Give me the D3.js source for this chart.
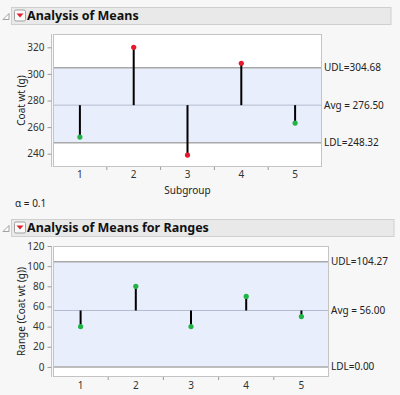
<!DOCTYPE html>
<html><head><meta charset="utf-8">
<script src="https://cdn.jsdelivr.net/npm/d3@7"></script>
<style>
html,body{margin:0;padding:0;background:#f7f7f7;}
svg{display:block;font-family:"Noto Sans","Open Sans",sans-serif;}
</style></head>
<body>
<script>
const subgroups = ["1","2","3","4","5"];
const means = [252.5, 320, 239, 308, 263];
const meanLimits = {udl: 304.68, avg: 276.50, ldl: 248.32};
const meanTicks = [240, 260, 280, 300, 320];
const ranges = [40, 80, 40, 70, 50];
const rangeLimits = {udl: 104.27, avg: 56.00, ldl: 0.00};
const rangeTicks = [0, 20, 40, 60, 80, 100, 120];
const meanLabels = ["UDL=304.68", "Avg = 276.50", "LDL=248.32"];
const rangeLabels = ["UDL=104.27", "Avg = 56.00", "LDL=0.00"];

const W = 400, H = 395;
const svg = d3.select("body").append("svg").attr("width", W).attr("height", H);
svg.append("rect").attr("width", W).attr("height", H).attr("fill", "#f7f7f7");

function header(y0, y1, right, title) {
  const g = svg.append("g");
  g.append("rect").attr("x", 11.5).attr("y", y0 + 0.5).attr("width", right - 11.5).attr("height", y1 - y0)
    .attr("fill", "#e9e9e9").attr("stroke", "#cfcfcf");
  // disclosure triangle
  const cy = (y0 + y1) / 2;
  g.append("path").attr("d", `M3,${cy + 4} L9,${cy + 4} L9,${cy - 2} Z`).attr("fill", "#fff").attr("stroke", "#8a8a8a").attr("stroke-width", 0.8);
  // red arrow button
  g.append("rect").attr("x", 14.5).attr("y", cy - 5.5).attr("width", 11).attr("height", 11).attr("rx", 1.5)
    .attr("fill", "#fafafa").attr("stroke", "#a0a0a0");
  g.append("path").attr("d", `M16.5,${cy - 2} L23.5,${cy - 2} L20,${cy + 2} Z`).attr("fill", "#e0202e");
  g.append("text").attr("x", 27).attr("y", cy + 4.5).attr("font-size", 12.5).attr("font-weight", "bold")
    .attr("fill", "#111").text(title);
}

function chart(opts) {
  const {left, right, top, bottom, domain, ticks, values, limits, labels, yTitle, colorFn, xLabelY, xTitle} = opts;
  const x = d3.scaleBand().domain(subgroups).range([left, right]);
  const y = d3.scaleLinear().domain(domain).range([bottom, top]);
  const g = svg.append("g");
  g.append("rect").attr("x", left).attr("y", top).attr("width", right - left).attr("height", bottom - top).attr("fill", "#fff");
  g.append("rect").attr("x", left).attr("y", y(limits.udl)).attr("width", right - left)
    .attr("height", y(limits.ldl) - y(limits.udl)).attr("fill", "#e8eefc");
  g.append("line").attr("x1", left).attr("x2", right).attr("y1", y(limits.avg)).attr("y2", y(limits.avg))
    .attr("stroke", "#b4bccf").attr("stroke-width", 1);
  [limits.udl, limits.ldl].forEach(v => {
    g.append("line").attr("x1", left).attr("x2", right).attr("y1", y(v)).attr("y2", y(v))
      .attr("stroke", "#a8a8a8").attr("stroke-width", 1.5);
  });
  g.append("rect").attr("x", left + 0.5).attr("y", top + 0.5).attr("width", right - left - 1).attr("height", bottom - top - 1)
    .attr("fill", "none").attr("stroke", "#c4c4c4");

  // y axis
  const ya = g.append("g").attr("transform", `translate(${left - 1.5},0)`)
    .call(d3.axisLeft(y).tickValues(ticks).tickSize(4).tickPadding(3).tickFormat(d3.format("d")));
  ya.select(".domain").attr("stroke", "#c4c4c4").attr("d", `M0,${top}V${bottom}`);
  ya.selectAll(".tick line").attr("stroke", "#9a9a9a");
  ya.selectAll("text").attr("font-size", 10).attr("fill", "#333").attr("font-family", "'Noto Sans',sans-serif");
  const minor = d3.range(domain[0] + 10, domain[1], 20).filter(v => !ticks.includes(v));
  ya.selectAll(".minor").data(minor).enter().append("line")
    .attr("x1", -2).attr("x2", 0).attr("y1", d => y(d)).attr("y2", d => y(d)).attr("stroke", "#9a9a9a");

  // x axis
  const xa = g.append("g");
  const bounds = subgroups.slice(1).map(s => x(s));
  xa.selectAll("line").data(bounds).enter().append("line")
    .attr("x1", d => d).attr("x2", d => d).attr("y1", bottom).attr("y2", bottom + 3).attr("stroke", "#9a9a9a");
  xa.selectAll("text").data(subgroups).enter().append("text")
    .attr("x", d => x(d) + x.bandwidth() / 2).attr("y", xLabelY).attr("text-anchor", "middle")
    .attr("font-size", 10).attr("fill", "#333").text(d => d);

  // stems + points
  subgroups.forEach((s, i) => {
    const cx = x(s) + x.bandwidth() / 2;
    g.append("line").attr("x1", cx).attr("x2", cx).attr("y1", y(limits.avg)).attr("y2", y(values[i]))
      .attr("stroke", "#000").attr("stroke-width", 2);
    g.append("circle").attr("cx", cx).attr("cy", y(values[i])).attr("r", 2.6).attr("fill", colorFn(values[i]));
  });

  // right labels
  [limits.udl, limits.avg, limits.ldl].forEach((v, i) => {
    g.append("text").attr("x", right + 2).attr("y", y(v) + 3.5).attr("font-size", 10).attr("fill", "#222").text(labels[i]);
  });

  // y title
  const cyT = (top + bottom) / 2;
  g.append("text").attr("transform", `translate(25,${cyT}) rotate(-90)`).attr("text-anchor", "middle")
    .attr("font-size", 10).attr("fill", "#222").text(yTitle);
  if (xTitle) {
    g.append("text").attr("x", (left + right) / 2).attr("y", xLabelY + 16).attr("text-anchor", "middle")
      .attr("font-size", 10).attr("fill", "#222").text(xTitle);
  }
}

header(7, 24, 391, "Analysis of Means");
chart({left: 53, right: 322, top: 34, bottom: 167, domain: [230, 330], ticks: meanTicks, values: means,
  limits: meanLimits, labels: meanLabels, yTitle: "Coat wt (g)", xLabelY: 178, xTitle: "Subgroup",
  colorFn: v => (v > meanLimits.udl || v < meanLimits.ldl) ? "#e8192c" : "#1fb443"});
svg.append("text").attr("x", 15).attr("y", 207).attr("font-size", 10).attr("fill", "#222").text("α = 0.1");
header(219, 236, 394, "Analysis of Means for Ranges");
chart({left: 53, right: 329, top: 246, bottom: 377, domain: [-10, 120], ticks: rangeTicks, values: ranges,
  limits: rangeLimits, labels: rangeLabels, yTitle: "Range (Coat wt (g))", xLabelY: 389, xTitle: null,
  colorFn: v => (v > rangeLimits.udl || v < rangeLimits.ldl) ? "#e8192c" : "#1fb443"});
</script>
</body></html>
